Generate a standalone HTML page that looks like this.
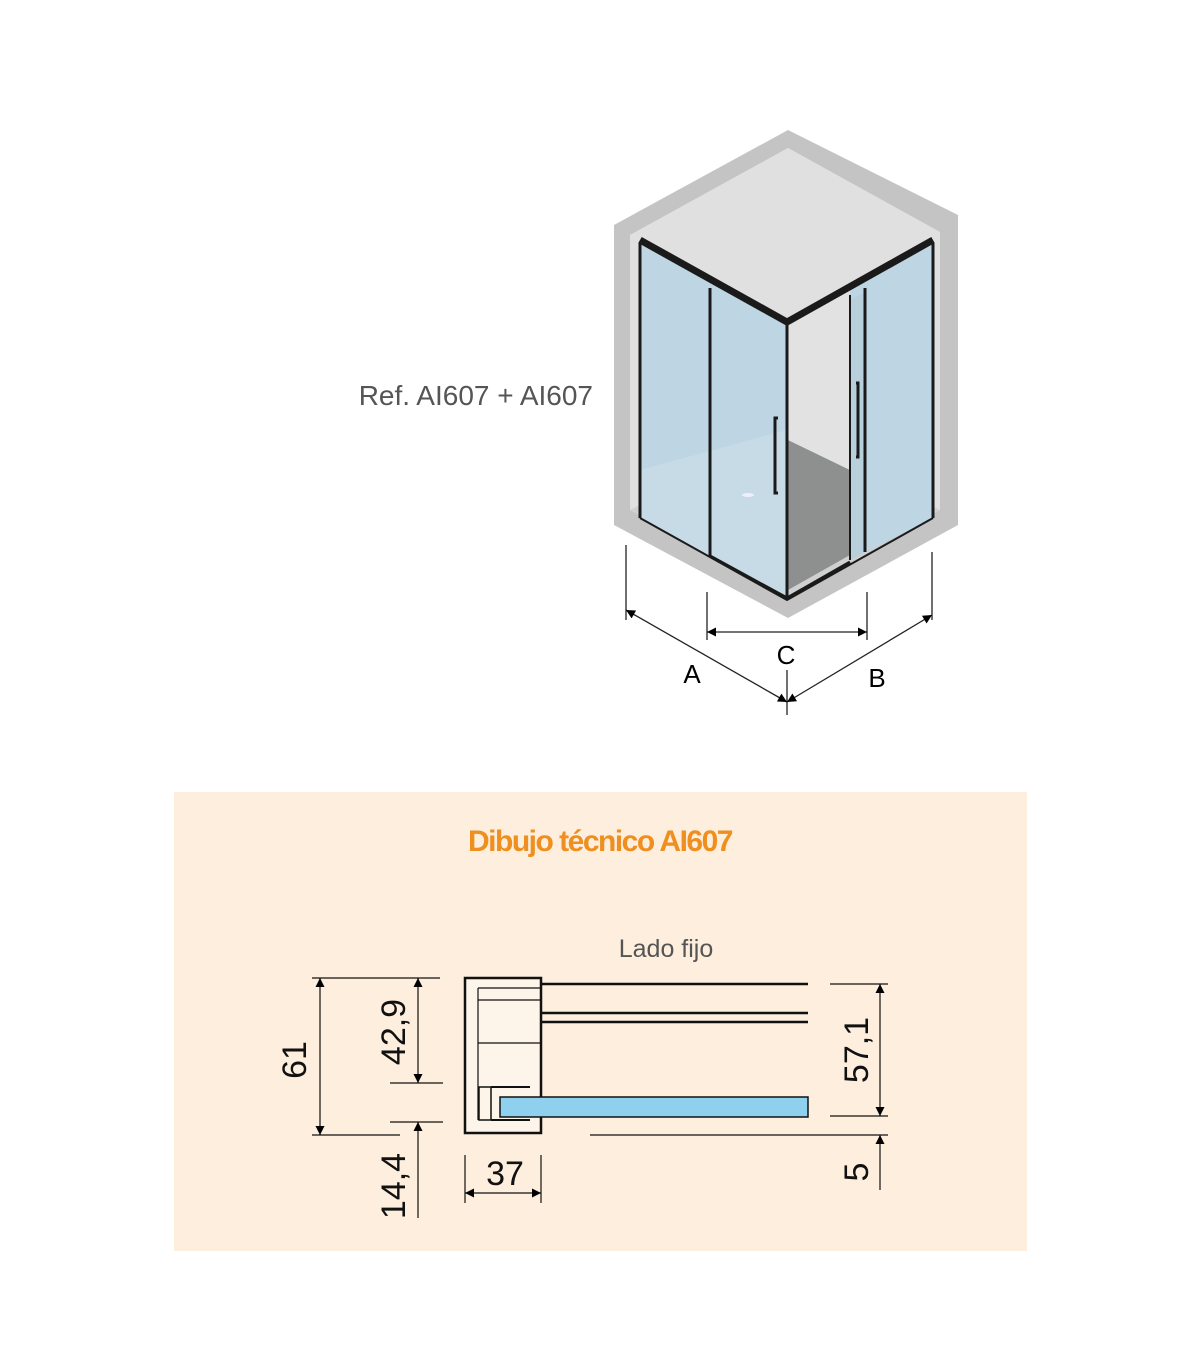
<!DOCTYPE html>
<html><head><meta charset="utf-8"><style>
html,body{margin:0;padding:0;background:#fff;}
svg{display:block;}
</style></head><body>
<svg width="1200" height="1372" viewBox="0 0 1200 1372" xmlns="http://www.w3.org/2000/svg" font-family="Liberation Sans, sans-serif">
<defs>
<marker id="ar" viewBox="0 0 10 10" refX="10" refY="5" markerWidth="15" markerHeight="9" orient="auto-start-reverse" markerUnits="userSpaceOnUse"><path d="M0,0 L10,5 L0,10 z" fill="#000"/></marker>
</defs>
<polygon points="788,130 958,215 958,525 788,618 614,525 614,225" fill="#c4c4c4"/>
<polygon points="788,148 940,232 940,510 788,598 630,510 630,235" fill="#dcdcdc"/>
<polygon points="788,148 940,232 940,510 788,430 630,510 630,235" fill="#e0e0e0"/>
<polygon points="788,430 940,510 788,600 630,510" fill="#d0d0d0"/>
<polygon points="788,440 850,470 850,555 788,590" fill="#8e9090"/>
<polygon points="788,322 850,290 850,470 788,440" fill="#e2e2e2"/>
<polygon points="640,240 787,324 787,600 640,518" fill="#bed6e3"/>
<polygon points="640,470 787,430 787,600 640,518" fill="#c6dbe6"/>
<polygon points="850,290 933,240 933,518 850,560" fill="#bed6e3"/>
<polygon points="850,300 865,292 865,552 850,560" fill="#b8d0dc"/>
<g stroke="#1a1a1a" fill="none">
<polyline points="640,240 787,322 933,240" stroke-width="7"/>
<line x1="640" y1="243" x2="640" y2="518" stroke-width="3"/>
<line x1="710" y1="288" x2="710" y2="556" stroke-width="3"/>
<line x1="787" y1="325" x2="787" y2="600" stroke-width="3"/>
<line x1="850" y1="295" x2="850" y2="560" stroke-width="2"/>
<line x1="865" y1="288" x2="865" y2="552" stroke-width="3"/>
<line x1="933" y1="243" x2="933" y2="518" stroke-width="3"/>
<polyline points="640,518 787,600 933,518" stroke-width="2"/>
<polyline points="710,556 787,598 850,562" stroke-width="3"/>
<path d="M778,418 L775,418 L775,493 L778,493" stroke-width="3"/>
<path d="M856,383 L858,383 L858,457 L856,457" stroke-width="3"/>
</g>
<ellipse cx="748" cy="495" rx="6" ry="2" fill="#eef"/>
<text x="593" y="405" font-size="28" fill="#555" text-anchor="end">Ref. AI607 + AI607</text>
<g stroke="#222" stroke-width="1.3" fill="none">
<line x1="626" y1="545" x2="626" y2="620"/>
<line x1="707" y1="592" x2="707" y2="640"/>
<line x1="867" y1="592" x2="867" y2="640"/>
<line x1="932" y1="552" x2="932" y2="620"/>
<line x1="787" y1="670" x2="787" y2="715"/>
<line x1="626" y1="610" x2="787" y2="702" marker-start="url(#ar)" marker-end="url(#ar)"/>
<line x1="932" y1="615" x2="787" y2="702" marker-start="url(#ar)" marker-end="url(#ar)"/>
<line x1="707" y1="632" x2="867" y2="632" marker-start="url(#ar)" marker-end="url(#ar)"/>
</g>
<g font-size="26" fill="#000" text-anchor="middle">
<text x="692" y="683">A</text><text x="786" y="664">C</text><text x="877" y="687">B</text>
</g>
<rect x="174" y="792" width="853" height="459" fill="#fdeedd"/>
<text x="600" y="851" font-size="30" font-weight="bold" fill="#ee8f1f" text-anchor="middle" letter-spacing="-1.5">Dibujo técnico AI607</text>
<text x="666" y="957" font-size="25" fill="#555" text-anchor="middle">Lado fijo</text>
<g stroke="#111" fill="none">
<rect x="465" y="978" width="76" height="155" stroke-width="2.5" fill="#fdf4ea"/>
<line x1="478" y1="988" x2="541" y2="988" stroke-width="1.2"/>
<line x1="478" y1="988" x2="478" y2="1120" stroke-width="1.2"/>
<line x1="478" y1="1000" x2="541" y2="1000" stroke-width="1.2"/>
<line x1="478" y1="1043" x2="541" y2="1043" stroke-width="1.2"/>
<line x1="541" y1="984" x2="808" y2="984" stroke-width="2.5"/>
<line x1="541" y1="1013" x2="808" y2="1013" stroke-width="2.5"/>
<line x1="541" y1="1022" x2="808" y2="1022" stroke-width="2.5"/>
<rect x="479" y="1087" width="12" height="33" stroke-width="1.5"/>
<line x1="491" y1="1087" x2="530" y2="1087" stroke-width="2"/>
<line x1="491" y1="1120" x2="530" y2="1120" stroke-width="2"/>
</g>
<rect x="500" y="1097" width="308" height="20" fill="#8fd0ee" stroke="#111" stroke-width="1.5"/>
<g stroke="#111" stroke-width="1.2" fill="none">
<line x1="312" y1="978" x2="440" y2="978"/>
<line x1="312" y1="1135" x2="400" y2="1135"/>
<line x1="390" y1="1083" x2="443" y2="1083"/>
<line x1="390" y1="1122" x2="443" y2="1122"/>
<line x1="320" y1="978" x2="320" y2="1135" marker-start="url(#ar)" marker-end="url(#ar)"/>
<line x1="418" y1="978" x2="418" y2="1083" marker-start="url(#ar)" marker-end="url(#ar)"/>
<line x1="418" y1="1122" x2="418" y2="1218" marker-start="url(#ar)"/>
<line x1="465" y1="1155" x2="465" y2="1203"/>
<line x1="541" y1="1155" x2="541" y2="1203"/>
<line x1="465" y1="1193" x2="541" y2="1193" marker-start="url(#ar)" marker-end="url(#ar)"/>
<line x1="830" y1="984" x2="888" y2="984"/>
<line x1="830" y1="1116" x2="888" y2="1116"/>
<line x1="590" y1="1135" x2="888" y2="1135"/>
<line x1="880" y1="984" x2="880" y2="1116" marker-start="url(#ar)" marker-end="url(#ar)"/>
<line x1="880" y1="1135" x2="880" y2="1190" marker-start="url(#ar)"/>
</g>
<g font-size="34" fill="#111" text-anchor="middle">
<text transform="translate(306,1060) rotate(-90)">61</text>
<text transform="translate(405,1032) rotate(-90)">42,9</text>
<text transform="translate(405,1186) rotate(-90)">14,4</text>
<text x="505" y="1185">37</text>
<text transform="translate(868,1050) rotate(-90)">57,1</text>
<text transform="translate(868,1172) rotate(-90)">5</text>
</g>
</svg>
</body></html>
